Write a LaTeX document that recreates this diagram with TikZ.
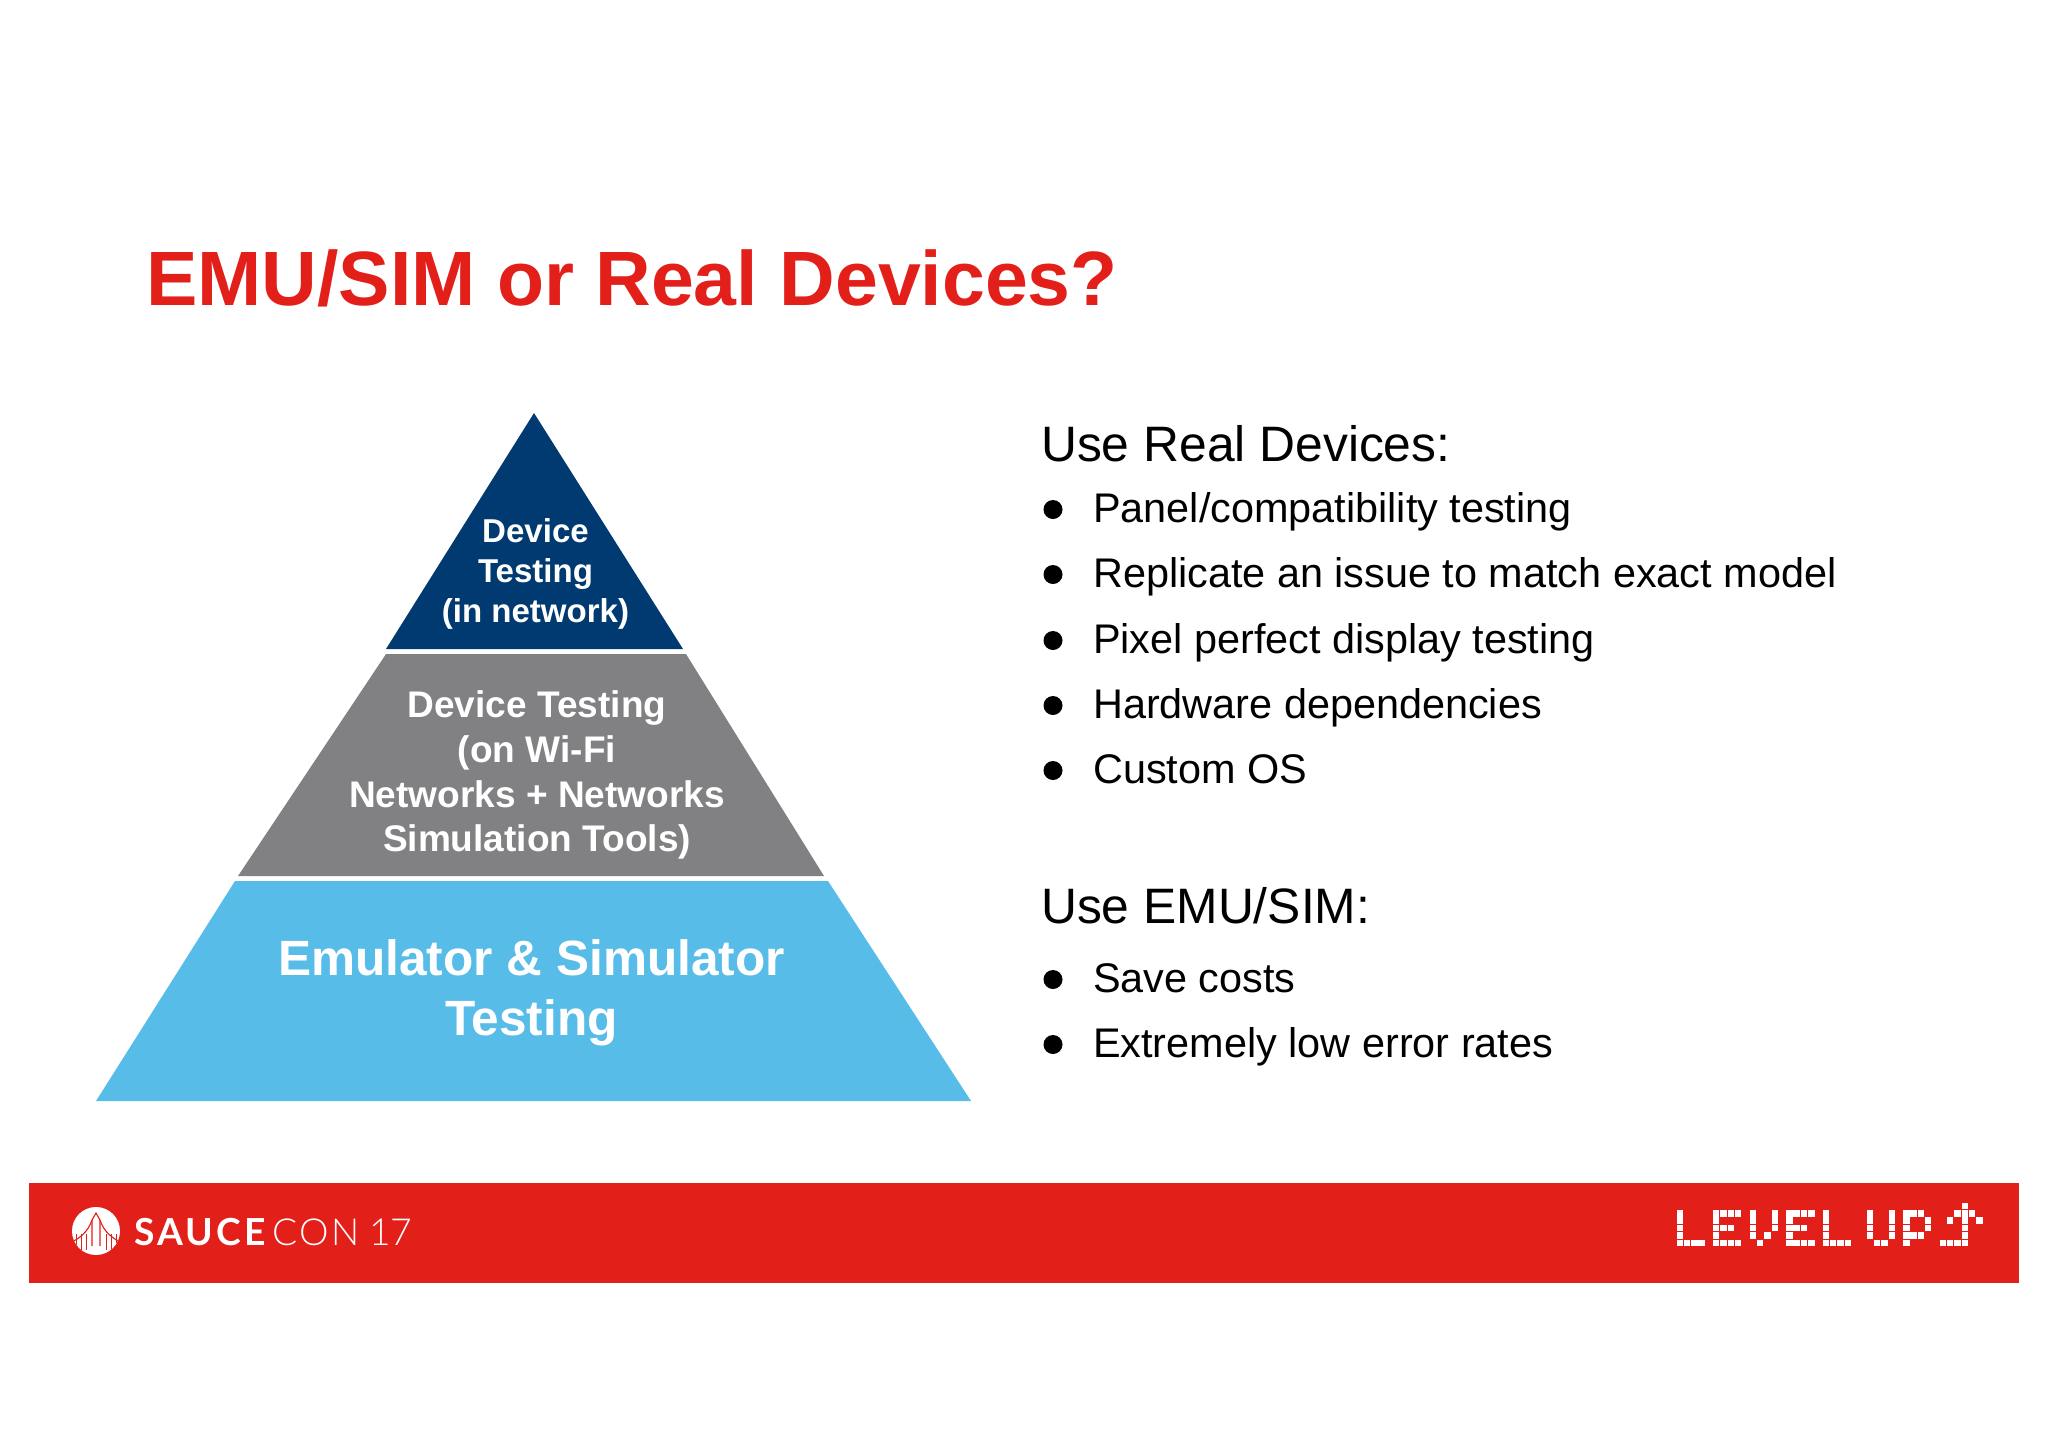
\documentclass[tikz,border=0pt]{standalone}
\usepackage{fontspec}
\setmainfont{Liberation Sans}
\newfontfamily\saucebold[LetterSpace=8.5]{Lato Bold}
\newfontfamily\saucelight[LetterSpace=6.5]{Lato Light}
\newfontfamily\yearlight{Lato Light}
\usetikzlibrary{calc}
\definecolor{saucered}{HTML}{E31F1A}
\definecolor{tiernavy}{HTML}{003A70}
\definecolor{tiergray}{HTML}{818082}
\definecolor{tierblue}{HTML}{58BCE8}
\tikzset{
	headline/.style={anchor=base west, inner sep=0pt, text=saucered, font=\fontsize{109.6}{120}\selectfont\bfseries},
	listhead/.style={anchor=base west, inner sep=0pt, font=\fontsize{70.8}{80}\selectfont},
	listitem/.style={anchor=base west, inner sep=0pt, font=\fontsize{58.9}{66}\selectfont},
	listdot/.style={circle, fill=black, inner sep=0pt, minimum size=19*1.4226pt},
	tiertext/.style={align=center, inner sep=0pt, text=white},
	logotext/.style={anchor=base west, inner sep=0pt, text=white},
	pix/.style={fill=white, draw=none}
}
% one item of a list: name, baseline in px, text
\newcommand{\listline}[3]
{
	\node[listdot] (dot#1) at (1053,#2-11.5) {};
	\node[listitem] (item#1) at (1093,#2+1.3) {#3};
}
% pixels of the logo: first column, then column/row pairs
\newcommand{\pixels}[2]
{
	\foreach \c/\r in {#2}
		\fill[pix] ({1676.5+(#1+\c)*7.31},{1210+\r*7.4}) rectangle ++(6.4,6.6);
}
\newcommand{\pixL}[1]{\pixels{#1}{0/0,0/1,0/2,0/3,0/4,1/4,2/4,3/4}}
\newcommand{\pixE}[1]{\pixels{#1}{0/0,1/0,2/0,3/0,0/1,0/2,1/2,2/2,0/3,0/4,1/4,2/4,3/4}}
\begin{document}
\begin{tikzpicture}[x=0.05cm, y=-0.05cm]
	\useasboundingbox (0,0) rectangle (2048,1447);
	% title
	\node[headline] (title) at (146,305) {EMU/SIM or Real Devices?};
	% pyramid, top to bottom
	\fill[tiernavy] (534,413) -- (683,649) -- (386,649) -- cycle;
	\fill[tiergray] (386,654) -- (686,654) -- (824,876) -- (238,876) -- cycle;
	\fill[tierblue] (235,881) -- (828,881) -- (971,1101) -- (96,1101) -- cycle;
	\node[tiertext, font=\fontsize{47}{57}\selectfont\bfseries] (tiertop) at (535.5,574) {Device\\Testing\\(in network)};
	\node[tiertext, font=\fontsize{52.7}{63.8}\selectfont\bfseries] (tiermid) at (537,775) {Device Testing\\(on Wi-Fi\\Networks + Networks\\Simulation Tools)};
	\node[tiertext, font=\fontsize{70.5}{85}\selectfont\bfseries] (tierlow) at (531.5,993) {Emulator \& Simulator\\Testing};
	% lists
	\node[listhead] (headreal) at (1041,461.5) {Use Real Devices:};
	\listline{a}{521}{Panel/compatibility testing}
	\listline{b}{586}{Replicate an issue to match exact model}
	\listline{c}{652}{Pixel perfect display testing}
	\listline{d}{717}{Hardware dependencies}
	\listline{e}{782}{Custom OS}
	\node[listhead] (heademu) at (1041,923) {Use EMU/SIM:};
	\listline{f}{991}{Save costs}
	\listline{g}{1056}{Extremely low error rates}
	% footer
	\fill[saucered] (29,1183) rectangle (2019,1282.5);
	% bridge logo
	\fill[white] (96,1231) circle (24);
	\begin{scope}
		\clip (96,1231) circle (24);
		\draw[saucered, line width=1.6pt] (92,1246) -- (92,1220) -- (96,1213) -- (100,1220) -- (100,1246);
		\draw[saucered, line width=1.6pt] (92,1220) .. controls (88,1232) and (80,1238) .. (70,1243);
		\draw[saucered, line width=1.6pt] (100,1220) .. controls (104,1232) and (112,1238) .. (122,1243);
		\foreach \x in {76,81,86,106,111,116}
			\draw[saucered, line width=1.3pt] (\x,1234) -- (\x,1250);
	\end{scope}
	\node[logotext, font=\fontsize{53}{60}\selectfont\saucebold] (sauce) at (134,1245) {SAUCE};
	\node[logotext, font=\fontsize{53}{60}\selectfont\saucelight] (con) at (272,1245) {CON};
	\node[logotext, font=\fontsize{53}{60}\selectfont\yearlight] (year) at (369,1245) {17};
	% level up
	\pixL{0}
	\pixE{5}
	\pixels{10}{0/0,0/1,0/2,0/3,1/4,2/3,3/0,3/1,3/2}
	\pixE{15}
	\pixL{20}
	\pixels{26}{0/0,0/1,0/2,0/3,1/4,2/4,3/0,3/1,3/2,3/3}
	\pixels{31}{0/0,0/1,0/2,0/3,0/4,1/0,2/0,3/1,3/2,1/3,2/3}
	\pixels{36}{3/-1,3/0,3/1,3/2,3/3,3/4,2/0,4/0,1/1,5/1,0/4,1/4,2/4}
\end{tikzpicture}
\end{document}
